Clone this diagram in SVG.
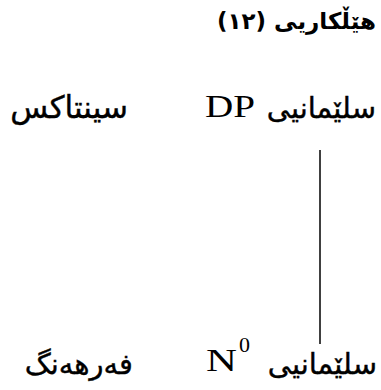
<svg xmlns="http://www.w3.org/2000/svg" width="381" height="390" viewBox="0 0 381 390">
<style>
.ar{font-family:"DejaVu Sans",sans-serif;font-size:31px;fill:#000;stroke:#000;stroke-width:0.4}
.ar2{font-family:"DejaVu Sans",sans-serif;font-size:29px;fill:#000;stroke:#000;stroke-width:0.4}
.ttl{font-family:"DejaVu Sans",sans-serif;font-size:23px;font-weight:bold;fill:#000}
.lat{font-family:"Liberation Serif",serif;font-size:32px;fill:#000}
.sup{font-family:"Liberation Serif",serif;font-size:22px;fill:#000}
.edge{stroke:#000;stroke-width:1.5;fill:none}
</style>
<rect width="381" height="390" fill="#fff"/>
<g id="title"><text class="ttl" x="376" y="29" text-anchor="start" direction="rtl">هێڵکاریی (١٢)</text></g>
<g id="label-syntax"><text class="ar" x="128" y="118" text-anchor="start" direction="rtl">سینتاکس</text></g>
<g id="node-dp">
<text class="ar2" x="376" y="118" text-anchor="start" direction="rtl">سلێمانیی</text>
<text class="lat" x="205" y="117" textLength="50" lengthAdjust="spacingAndGlyphs">DP</text>
</g>
<g id="label-lexicon"><text class="ar2" x="133" y="374" text-anchor="start" direction="rtl">فەرهەنگ</text></g>
<g id="node-n0">
<text class="ar2" x="377" y="374" text-anchor="start" direction="rtl">سلێمانیی</text>
<text class="lat" x="206" y="371" textLength="31" lengthAdjust="spacingAndGlyphs">N</text>
<text class="sup" x="239" y="352">0</text>
</g>
<g id="connectors"><line class="edge" x1="320" y1="150" x2="320" y2="344"/></g>
</svg>
